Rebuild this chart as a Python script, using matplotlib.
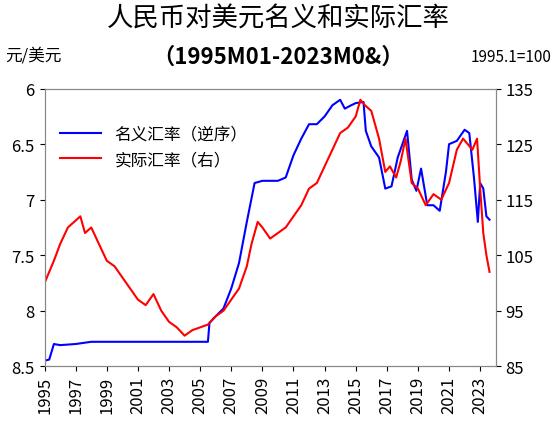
import matplotlib
matplotlib.use("Agg")
import matplotlib.pyplot as plt

plt.rcParams['font.family'] = ['Noto Sans CJK SC', 'DejaVu Sans']

nom_t = [1995.0, 1995.3, 1995.6, 1996.0, 1997.0, 1998.0, 2000.0, 2003.0, 2005.5, 2005.6, 2006.0, 2006.5,
         2007.0, 2007.5, 2008.0, 2008.5, 2009.0, 2010.0, 2010.5, 2011.0, 2011.5, 2012.0, 2012.5, 2013.0,
         2013.5, 2014.0, 2014.3, 2014.7, 2015.0, 2015.5, 2015.65, 2016.0, 2016.5, 2016.9, 2017.3, 2017.7,
         2018.0, 2018.3, 2018.6, 2018.9, 2019.2, 2019.6, 2020.0, 2020.4, 2020.8, 2021.0, 2021.5, 2022.0,
         2022.3, 2022.6, 2022.85, 2023.0, 2023.2, 2023.4, 2023.6]
nom_v = [8.45, 8.44, 8.30, 8.31, 8.30, 8.28, 8.28, 8.28, 8.28, 8.11, 8.05, 7.98,
         7.80, 7.57, 7.20, 6.85, 6.83, 6.83, 6.80, 6.60, 6.45, 6.32, 6.32, 6.25,
         6.15, 6.10, 6.18, 6.15, 6.13, 6.12, 6.38, 6.52, 6.62, 6.90, 6.88, 6.62,
         6.50, 6.38, 6.82, 6.92, 6.72, 7.05, 7.05, 7.10, 6.75, 6.50, 6.47, 6.37,
         6.40, 6.80, 7.20, 6.85, 6.90, 7.15, 7.18]

real_t = [1995.0, 1995.3, 1995.6, 1996.0, 1996.5, 1996.9, 1997.3, 1997.6, 1998.0, 1998.5, 1999.0,
          1999.5, 2000.0, 2000.5, 2001.0, 2001.5, 2002.0, 2002.5, 2003.0, 2003.5, 2004.0, 2004.5,
          2005.0, 2005.5, 2006.0, 2006.5, 2007.0, 2007.5, 2008.0, 2008.3, 2008.7, 2009.0, 2009.5,
          2010.0, 2010.5, 2011.0, 2011.5, 2012.0, 2012.5, 2013.0, 2013.5, 2014.0, 2014.5, 2015.0,
          2015.3, 2015.6, 2016.0, 2016.5, 2016.9, 2017.2, 2017.6, 2017.9, 2018.2, 2018.6, 2019.0,
          2019.5, 2020.0, 2020.5, 2021.0, 2021.5, 2021.9, 2022.2, 2022.5, 2022.8, 2023.0, 2023.2,
          2023.4, 2023.6]
real_v = [100, 102, 104, 107, 110, 111, 112, 109, 110, 107, 104,
          103, 101, 99, 97, 96, 98, 95, 93, 92, 90.5, 91.5,
          92, 92.5, 94, 95, 97, 99, 103, 107, 111, 110, 108,
          109, 110, 112, 114, 117, 118, 121, 124, 127, 128, 130,
          133, 132, 131, 126, 120, 121, 119, 122, 126, 118, 117,
          114, 116, 115, 118, 124, 126, 125, 124, 126, 117, 109,
          105, 102]

xticks = list(range(1995, 2024, 2))

fig, ax = plt.subplots(figsize=(5.57, 4.27), dpi=100)
fig.subplots_adjust(left=0.08, right=0.89, top=0.79, bottom=0.14)
l1, = ax.plot(nom_t, nom_v, color='#0000ff', lw=1.5, label='名义汇率（逆序）')
ax.set_ylim(8.5, 6)
ax.set_yticks([6, 6.5, 7, 7.5, 8, 8.5])
ax.set_yticklabels(['6', '6.5', '7', '7.5', '8', '8.5'])
ax.set_xlim(1995, 2024)
ax.set_xticks(xticks)
ax.set_xticklabels([str(x) for x in xticks], rotation=90)
ax2 = ax.twinx()
l2, = ax2.plot(real_t, real_v, color='#ff0000', lw=1.5, label='实际汇率（右）')
ax2.set_ylim(85, 135)
ax2.set_yticks([85, 95, 105, 115, 125, 135])
for a in (ax, ax2):
    a.tick_params(labelsize=12, direction='out')
    for s in a.spines.values():
        s.set_color('#888888')
ax.legend(handles=[l1, l2], loc='upper left', bbox_to_anchor=(0.0, 0.92), frameon=False, fontsize=12,
          handlelength=2.5)
fig.text(0.5, 0.955, '人民币对美元名义和实际汇率', ha='center', va='center', fontsize=19)
fig.text(0.5, 0.865, '（1995M01-2023M0&）', ha='center', va='center', fontsize=16, weight='bold')
fig.text(0.01, 0.87, '元/美元', fontsize=12, va='center')
fig.text(0.99, 0.865, '1995.1=100', fontsize=11, va='center', ha='right')
fig.savefig('out.png', dpi=100)
